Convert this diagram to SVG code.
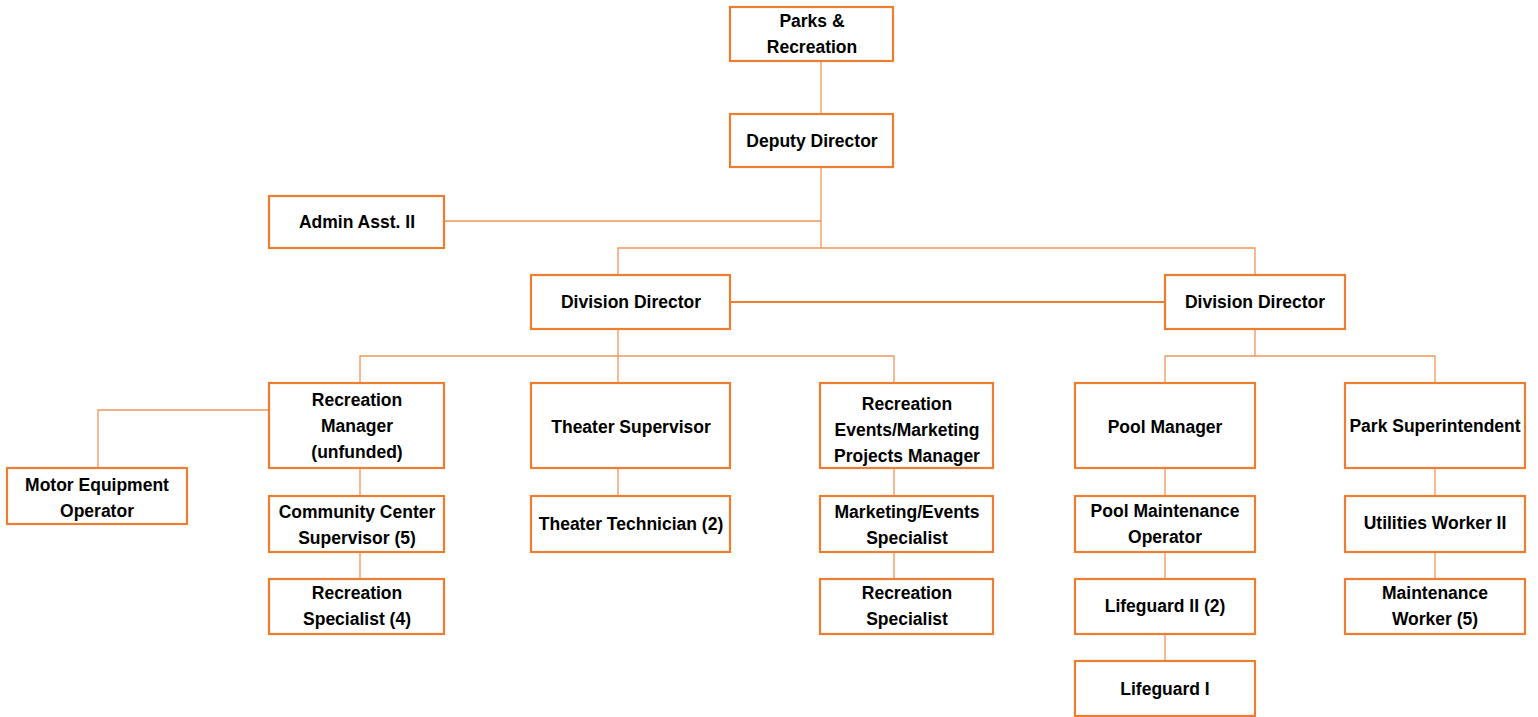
<svg xmlns="http://www.w3.org/2000/svg" width="1538" height="717" viewBox="0 0 1538 717">
<style>
.n rect{fill:#fff;stroke:#ED7D31;stroke-width:2.2}
.n text{font-family:"Liberation Sans",Arial,sans-serif;font-weight:bold;font-size:17.5px;fill:#000;text-anchor:middle;dominant-baseline:central}
.c path{fill:none;stroke:#F0965A;stroke-width:1.3}
.c .thick{stroke:#ED7D31;stroke-width:2}
</style>
<rect width="1538" height="717" fill="#fff"/>
<g class="c" id="connectors">
<path d="M821 61V114"/>
<path d="M821 167V248"/>
<path d="M444 221H821"/>
<path d="M618 275V248H1255V275"/>
<path class="thick" d="M730 302H1165"/>
<path d="M618 329V383"/>
<path d="M360 383V356H894V383"/>
<path d="M1255 329V356"/>
<path d="M1165 383V356H1435V383"/>
<path d="M269 410H98V468"/>
<path d="M360 468V496"/>
<path d="M360 552V579"/>
<path d="M618 468V496"/>
<path d="M894 468V496"/>
<path d="M894 552V579"/>
<path d="M1165 468V496"/>
<path d="M1165 552V579"/>
<path d="M1165 634V661"/>
<path d="M1435 468V496"/>
<path d="M1435 552V579"/>
</g>
<g class="n" id="parks"><rect x="730" y="7" width="163" height="54"/><text x="812" y="21">Parks &amp;</text><text x="812" y="47">Recreation</text></g>
<g class="n" id="deputy"><rect x="730" y="114" width="163" height="53"/><text x="812" y="141">Deputy Director</text></g>
<g class="n" id="admin"><rect x="269" y="196" width="175" height="52"/><text x="357" y="222">Admin Asst. II</text></g>
<g class="n" id="div1"><rect x="531" y="275" width="199" height="54"/><text x="631" y="302">Division Director</text></g>
<g class="n" id="div2"><rect x="1165" y="275" width="180" height="54"/><text x="1255" y="302">Division Director</text></g>
<g class="n" id="recmgr"><rect x="269" y="383" width="175" height="85"/><text x="357" y="400">Recreation</text><text x="357" y="426">Manager</text><text x="357" y="452">(unfunded)</text></g>
<g class="n" id="theatersup"><rect x="531" y="383" width="199" height="85"/><text x="631" y="427">Theater Supervisor</text></g>
<g class="n" id="recevents"><rect x="820" y="383" width="173" height="85"/><text x="907" y="404">Recreation</text><text x="907" y="430">Events/Marketing</text><text x="907" y="456">Projects Manager</text></g>
<g class="n" id="poolmgr"><rect x="1075" y="383" width="180" height="85"/><text x="1165" y="427">Pool Manager</text></g>
<g class="n" id="parksup"><rect x="1345" y="383" width="180" height="85"/><text x="1435" y="426">Park Superintendent</text></g>
<g class="n" id="motor"><rect x="7" y="468" width="180" height="56"/><text x="97" y="485">Motor Equipment</text><text x="97" y="511">Operator</text></g>
<g class="n" id="ccsup"><rect x="269" y="496" width="175" height="56"/><text x="357" y="512">Community Center</text><text x="357" y="538">Supervisor (5)</text></g>
<g class="n" id="theatertech"><rect x="531" y="496" width="199" height="56"/><text x="631" y="524">Theater Technician (2)</text></g>
<g class="n" id="mktspec"><rect x="820" y="496" width="173" height="56"/><text x="907" y="512">Marketing/Events</text><text x="907" y="538">Specialist</text></g>
<g class="n" id="poolmaint"><rect x="1075" y="496" width="180" height="56"/><text x="1165" y="511">Pool Maintenance</text><text x="1165" y="537">Operator</text></g>
<g class="n" id="util"><rect x="1345" y="496" width="180" height="56"/><text x="1435" y="523">Utilities Worker II</text></g>
<g class="n" id="recspec4"><rect x="269" y="579" width="175" height="55"/><text x="357" y="593">Recreation</text><text x="357" y="619">Specialist (4)</text></g>
<g class="n" id="recspec"><rect x="820" y="579" width="173" height="55"/><text x="907" y="593">Recreation</text><text x="907" y="619">Specialist</text></g>
<g class="n" id="lg2"><rect x="1075" y="579" width="180" height="55"/><text x="1165" y="606">Lifeguard II (2)</text></g>
<g class="n" id="maint"><rect x="1345" y="579" width="180" height="55"/><text x="1435" y="593">Maintenance</text><text x="1435" y="619">Worker (5)</text></g>
<g class="n" id="lg1"><rect x="1075" y="661" width="180" height="55"/><text x="1165" y="689">Lifeguard I</text></g>
</svg>
